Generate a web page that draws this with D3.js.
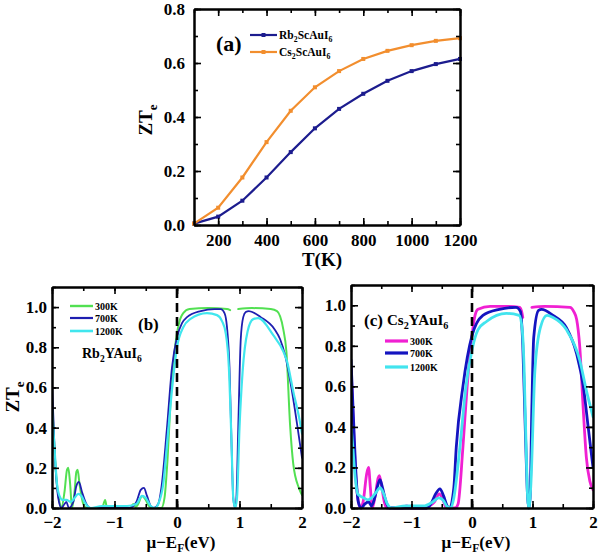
<!DOCTYPE html>
<html><head><meta charset="utf-8">
<script src="https://cdn.jsdelivr.net/npm/d3@7"></script>
<style>
body{margin:0;background:#fff}
text{font-family:"Liberation Serif","Times New Roman",serif;font-weight:bold;fill:#000}
</style>
</head><body><svg id="c" width="600" height="555"></svg>
<script>
// ---------- Panel (a) data ----------
const tempK = [100,200,300,400,500,600,700,800,900,1000,1100,1200];
const rbScAuI6 = [0.005,0.031,0.090,0.176,0.270,0.358,0.430,0.486,0.534,0.570,0.596,0.615];
const csScAuI6 = [0.005,0.064,0.176,0.307,0.423,0.510,0.570,0.615,0.645,0.666,0.682,0.692];
const aXTicks = [200,400,600,800,1000,1200];
const aYTicks = [0,0.2,0.4,0.6,0.8];

// ---------- Panel (b) data: Rb2YAuI6, [mu-EF, ZTe] ----------
const b300K = [[-2,0.55],[-1.97,0.35],[-1.93,0.15],[-1.88,0.03],[-1.85,0],[-1.8,0.08],[-1.76,0.19],[-1.74,0.2],[-1.71,0.12],[-1.68,0],[-1.64,0.08],[-1.61,0.18],[-1.59,0.19],[-1.56,0.12],[-1.5,0.02],[-1.45,0],[-1.2,0],[-1.15,0.04],[-1.12,0],[-0.75,0],[-0.7,0.02],[-0.66,0.005],[-0.62,0.02],[-0.56,0.06],[-0.5,0.04],[-0.45,0.01],[-0.4,0],[-0.25,0],[-0.2,0.05],[-0.15,0.25],[-0.1,0.55],[-0.05,0.75],[0,0.87],[0.05,0.94],[0.1,0.97],[0.2,0.99],[0.5,0.995],[0.8,0.99],[0.85,0.985],null,[0.98,0.99],[1.2,0.995],[1.5,0.99],[1.6,0.98],[1.7,0.89],[1.75,0.78],[1.81,0.41],[1.86,0.22],[1.95,0.1],[2,0.065]];
const b700K = [[-2,0.63],[-1.96,0.3],[-1.9,0.05],[-1.85,0],[-1.8,0.02],[-1.77,0.03],[-1.73,0],[-1.66,0.03],[-1.61,0.11],[-1.57,0.13],[-1.52,0.08],[-1.45,0.02],[-1.39,0],[-0.75,0],[-0.7,0.01],[-0.65,0.03],[-0.58,0.09],[-0.53,0.1],[-0.48,0.06],[-0.42,0.01],[-0.37,0],[-0.3,0.02],[-0.25,0.1],[-0.16,0.4],[-0.08,0.7],[0,0.85],[0.08,0.92],[0.16,0.95],[0.38,0.98],[0.6,0.99],[0.7,0.99],[0.76,0.97],[0.8,0.9],[0.84,0.7],[0.87,0.35],[0.9,0.05],[0.93,0],[0.95,0.05],[0.98,0.4],[1.02,0.84],[1.06,0.95],[1.1,0.975],[1.15,0.98],[1.34,0.95],[1.56,0.89],[1.65,0.84],[1.73,0.76],[1.84,0.58],[1.92,0.42],[2,0.25]];
const b1200K = [[-2,0.5],[-1.96,0.3],[-1.92,0.12],[-1.88,0.06],[-1.83,0.04],[-1.77,0.04],[-1.7,0.03],[-1.64,0.05],[-1.58,0.07],[-1.53,0.06],[-1.46,0.02],[-1.38,0],[-1.2,0.01],[-0.8,0.01],[-0.65,0.02],[-0.56,0.06],[-0.5,0.05],[-0.42,0.01],[-0.35,0],[-0.3,0.02],[-0.22,0.12],[-0.15,0.35],[-0.07,0.62],[0,0.8],[0.1,0.9],[0.21,0.94],[0.48,0.97],[0.64,0.96],[0.72,0.93],[0.78,0.87],[0.83,0.7],[0.87,0.35],[0.9,0.05],[0.93,0],[0.96,0.05],[1,0.4],[1.05,0.68],[1.13,0.88],[1.22,0.94],[1.3,0.945],[1.54,0.86],[1.7,0.78],[1.76,0.73],[1.86,0.58],[1.96,0.44],[2,0.37]];

// ---------- Panel (c) data: Cs2YAuI6 ----------
const c300K = [[-2,0.7],[-1.96,0.4],[-1.92,0.15],[-1.87,0.02],[-1.84,0],[-1.8,0.03],[-1.74,0.17],[-1.71,0.2],[-1.68,0.1],[-1.65,0],[-1.6,0.06],[-1.55,0.15],[-1.53,0.16],[-1.49,0.1],[-1.45,0.03],[-1.41,0],[-1.15,0],[-1.08,0.01],[-1,0],[-0.75,0],[-0.7,0.01],[-0.62,0.03],[-0.54,0.07],[-0.48,0.04],[-0.42,0],[-0.28,0],[-0.23,0.02],[-0.15,0.3],[-0.08,0.6],[0,0.85],[0.05,0.95],[0.1,0.98],[0.3,0.995],[0.6,0.995],[0.79,0.99],[0.82,0.97],[0.84,0.94],null,[0.99,0.99],[1.2,0.995],[1.62,0.99],[1.68,0.97],[1.73,0.93],[1.78,0.8],[1.84,0.48],[1.89,0.25],[1.95,0.13],[2,0.09]];
const c700K = [[-2,0.73],[-1.96,0.45],[-1.92,0.18],[-1.88,0.03],[-1.83,0],[-1.77,0.02],[-1.71,0.03],[-1.66,0.01],[-1.6,0.06],[-1.55,0.12],[-1.52,0.14],[-1.48,0.1],[-1.42,0.03],[-1.36,0],[-0.75,0],[-0.68,0.02],[-0.6,0.07],[-0.53,0.094],[-0.47,0.06],[-0.41,0.01],[-0.37,0],[-0.3,0.1],[-0.26,0.3],[-0.15,0.6],[0,0.85],[0.18,0.95],[0.45,0.98],[0.73,0.99],[0.8,0.97],[0.84,0.8],[0.88,0.4],[0.92,0.05],[0.94,0],[0.96,0.05],[0.99,0.5],[1.02,0.84],[1.1,0.975],[1.15,0.98],[1.34,0.95],[1.56,0.89],[1.73,0.76],[1.84,0.6],[1.92,0.4],[2,0.2]];
const c1200K = [[-2,0.41],[-1.97,0.3],[-1.93,0.15],[-1.89,0.07],[-1.85,0.06],[-1.79,0.05],[-1.72,0.04],[-1.66,0.05],[-1.58,0.08],[-1.52,0.1],[-1.46,0.07],[-1.4,0.02],[-1.33,0],[-1.1,0.01],[-0.8,0.01],[-0.65,0.03],[-0.55,0.05],[-0.48,0.04],[-0.42,0.01],[-0.35,0],[-0.3,0.05],[-0.2,0.3],[-0.1,0.6],[0,0.78],[0.1,0.88],[0.24,0.92],[0.57,0.96],[0.78,0.95],[0.83,0.88],[0.86,0.7],[0.89,0.35],[0.92,0.05],[0.94,0],[0.97,0.1],[1.04,0.68],[1.13,0.89],[1.24,0.95],[1.34,0.94],[1.56,0.88],[1.78,0.73],[1.89,0.58],[2,0.45]];

const muTicks = [-2,-1,0,1,2];
const zTicks = [0,0.2,0.4,0.6,0.8,1.0];
const tempLabels = ["300K","700K","1200K"];

// ---------- drawing ----------
const svg = d3.select("#c");

function frame(x, y, opt) {
  const [x0, x1] = x.range(), [yb, yt] = y.range();
  const g = svg.append("g");
  const st = s => s.call(a => a.select(".domain").attr("stroke","#000").attr("stroke-width",2))
                   .call(a => a.selectAll(".tick line").attr("stroke","#000").attr("stroke-width",1.6))
                   .call(a => a.selectAll("text").attr("font-size", opt.fs).attr("fill","#000")
                     .attr("font-family",'"Liberation Serif",serif').attr("font-weight","bold"));
  g.append("g").attr("transform",`translate(0,${yb})`)
    .call(d3.axisBottom(x).tickValues(opt.xMinor).tickSize(-4).tickSizeOuter(0).tickFormat("")).call(st);
  g.append("g").attr("transform",`translate(0,${yb})`)
    .call(d3.axisBottom(x).tickValues(opt.xMajor).tickSize(-7).tickSizeOuter(0).tickPadding(opt.xPad).tickFormat(opt.xFmt)).call(st);
  g.append("g").attr("transform",`translate(0,${yt})`)
    .call(d3.axisTop(x).tickValues(opt.xMinor).tickSize(-4).tickSizeOuter(0).tickFormat("")).call(st);
  g.append("g").attr("transform",`translate(0,${yt})`)
    .call(d3.axisTop(x).tickValues(opt.xMajor).tickSize(-7).tickSizeOuter(0).tickFormat("")).call(st);
  g.append("g").attr("transform",`translate(${x0},0)`)
    .call(d3.axisLeft(y).tickValues(opt.yMinor).tickSize(-4).tickSizeOuter(0).tickFormat("")).call(st);
  g.append("g").attr("transform",`translate(${x0},0)`)
    .call(d3.axisLeft(y).tickValues(opt.yMajor).tickSize(-7).tickSizeOuter(0).tickPadding(opt.yPad).tickFormat(d3.format(".1f"))).call(st);
  g.append("g").attr("transform",`translate(${x1},0)`)
    .call(d3.axisRight(y).tickValues(opt.yMinor).tickSize(-4).tickSizeOuter(0).tickFormat("")).call(st);
  g.append("g").attr("transform",`translate(${x1},0)`)
    .call(d3.axisRight(y).tickValues(opt.yMajor).tickSize(-7).tickSizeOuter(0).tickFormat("")).call(st);
  return g;
}

function subText(sel, parts, fs, off = 0.28) {
  parts.forEach(p => {
    if (typeof p === "string") sel.append("tspan").text(p).attr("font-size", fs).attr("dy", 0);
    else {
      sel.append("tspan").text(p.s).attr("font-size", fs*0.68).attr("dy", fs*off);
      sel.append("tspan").text("\u200A").attr("font-size", 1).attr("dy", -fs*off);
    }
  });
}

// ===== Panel (a) =====
const xa = d3.scaleLinear().domain([100,1200]).range([194,460]);
const ya = d3.scaleLinear().domain([0,0.8]).range([225,9]);
const aSeries = [
  {name:[ "Rb", {s:"2"}, "ScAuI", {s:"6"} ], vals: rbScAuI6, color:"#1c1c8e"},
  {name:[ "Cs", {s:"2"}, "ScAuI", {s:"6"} ], vals: csScAuI6, color:"#f28e2e"}
];
const lineA = d3.line().x(d => xa(d[0])).y(d => ya(d[1]));
aSeries.forEach(s => {
  const pts = tempK.map((t,i) => [t, s.vals[i]]);
  svg.append("path").attr("d", lineA(pts)).attr("fill","none").attr("stroke", s.color).attr("stroke-width",2.2);
  svg.append("g").selectAll("rect").data(pts).join("rect")
    .attr("x", d => xa(d[0]) - 2).attr("y", d => ya(d[1]) - 2).attr("width",4).attr("height",4)
    .attr("fill", s.color);
});
frame(xa, ya, {xMajor:aXTicks, xMinor:d3.range(100,1201,100), yMajor:aYTicks, yMinor:d3.range(0,0.81,0.1),
  xFmt:d3.format("d"), fs:17, xPad:9, yPad:9});
// legend (a)
svg.append("text").attr("x",216).attr("y",51).attr("font-size",22).text("(a)");
aSeries.forEach((s,i) => {
  const yy = 35 + i*17;
  svg.append("line").attr("x1",250).attr("x2",277).attr("y1",yy).attr("y2",yy).attr("stroke",s.color).attr("stroke-width",2.2);
  svg.append("rect").attr("x",261.5).attr("y",yy-2).attr("width",4).attr("height",4).attr("fill",s.color);
  subText(svg.append("text").attr("x",279).attr("y",yy+4), s.name, 11.5);
});
// axis titles (a)
subText(svg.append("text").attr("transform","translate(152,120) rotate(-90)").attr("text-anchor","middle"),
  ["ZT", {s:"e"}], 19);
svg.append("text").attr("x",322).attr("y",266).attr("text-anchor","middle").attr("font-size",19).text("T(K)");

// ===== Panels (b), (c) =====
function lowerPanel(x0, x1, yTop, data, colors, widths, legend) {
  const x = d3.scaleLinear().domain([-2,2]).range([x0,x1]);
  const y = d3.scaleLinear().domain([0,1.1]).range([508,yTop]);
  const id = "clip" + x0;
  svg.append("clipPath").attr("id", id).append("rect").attr("x",x0).attr("y",yTop).attr("width",x1-x0).attr("height",508-yTop+2);
  const gl = svg.append("g").attr("clip-path",`url(#${id})`);
  const line = d3.line().defined(d => d !== null).x(d => x(d[0])).y(d => y(d[1])).curve(d3.curveMonotoneX);
  data.forEach((s,i) => {
    gl.append("path").attr("d", line(s)).attr("fill","none").attr("stroke", colors[i])
      .attr("stroke-width", widths[i]).attr("stroke-linejoin","round").attr("stroke-linecap","round");
  });
  svg.append("line").attr("x1",x(0)).attr("x2",x(0)).attr("y1",y(0)).attr("y2",y(1.1))
    .attr("stroke","#000").attr("stroke-width",2.6).attr("stroke-dasharray","9,5");
  frame(x, y, {xMajor:muTicks, xMinor:d3.range(-2,2.01,0.5), yMajor:zTicks, yMinor:d3.range(0,1.11,0.1),
    xFmt:d3.format("d"), fs:17, xPad:8, yPad:5});
  subText(svg.append("text").attr("x",(x0+x1)/2 + 4).attr("y",548).attr("text-anchor","middle"),
    ["\u03BC\u2212E", {s:"F"}, "(eV)"], 17, 0.22);
  // legend
  legend.ys.forEach((yy,i) => {
    svg.append("line").attr("x1",legend.lx).attr("x2",legend.lx+23).attr("y1",yy).attr("y2",yy)
      .attr("stroke",colors[i]).attr("stroke-width", widths[i]+0.4);
    svg.append("text").attr("x",legend.lx+25).attr("y",yy+3.5).attr("font-size",10).text(tempLabels[i]);
  });
  return {x,y};
}

lowerPanel(52, 302, 287, [b300K, b700K, b1200K], ["#52e052","#1e1eb0","#40e6ee"], [2,1.8,2.2],
  {lx:70, ys:[306,318,331]});
svg.append("text").attr("x",138).attr("y",330).attr("font-size",17).text("(b)");
subText(svg.append("text").attr("x",82).attr("y",358), ["Rb", {s:"2"}, "YAuI", {s:"6"}], 14);
subText(svg.append("text").attr("transform","translate(19,397) rotate(-90)").attr("text-anchor","middle"),
  ["ZT", {s:"e"}], 19);

lowerPanel(351, 593, 285, [c300K, c700K, c1200K], ["#f020d2","#1414c0","#42e4ee"], [2.8,2.8,2.8],
  {lx:385, ys:[341,353,367]});
svg.append("text").attr("x",364).attr("y",326).attr("font-size",17).text("(c)");
subText(svg.append("text").attr("x",387).attr("y",325), ["Cs", {s:"2"}, "YAuI", {s:"6"}], 15);
</script>
</body></html>
